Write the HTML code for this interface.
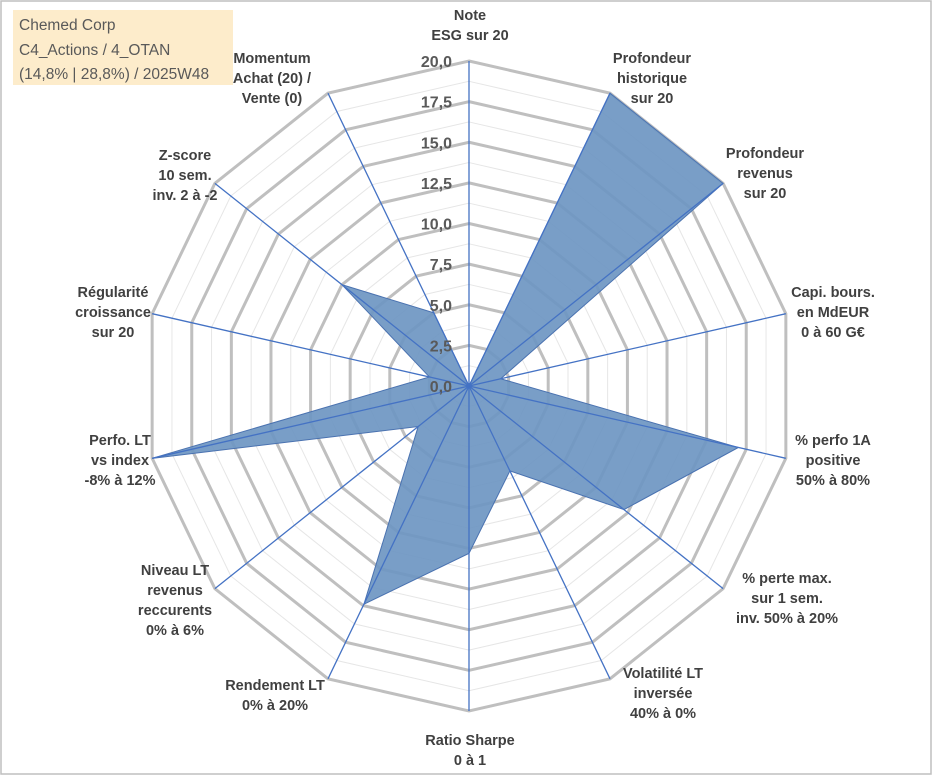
<!DOCTYPE html>
<html><head><meta charset="utf-8">
<style>
body{margin:0;background:#fff;}
#wrap{position:relative;width:933px;height:776px;overflow:hidden;}
svg text{font-family:"Liberation Sans",sans-serif;}
</style></head>
<body>
<div id="wrap">
<svg id="chart" width="933" height="776">
<rect x="1" y="1" width="930" height="773" fill="#fff" stroke="#bfbfbf" stroke-width="1.5"/>
<rect x="13" y="10" width="220" height="75" fill="#fdeccb"/>
<text x="19" y="30" font-size="15.5" fill="#595959">Chemed Corp</text>
<text x="19" y="55" font-size="15.5" fill="#595959">C4_Actions / 4_OTAN</text>
<text x="19" y="79" font-size="15.5" fill="#595959">(14,8% | 28,8%) / 2025W48</text>
</svg>
</div>
<script>
const categories = [
 ["Note","ESG sur 20"],
 ["Profondeur","historique","sur 20"],
 ["Profondeur","revenus","sur 20"],
 ["Capi. bours.","en MdEUR","0 à 60 G€"],
 ["% perfo 1A","positive","50% à 80%"],
 ["% perte max.","sur 1 sem.","inv. 50% à 20%"],
 ["Volatilité LT","inversée","40% à 0%"],
 ["Ratio Sharpe","0 à 1"],
 ["Rendement LT","0% à 20%"],
 ["Niveau LT","revenus","reccurents","0% à 6%"],
 ["Perfo. LT","vs index","-8% à 12%"],
 ["Régularité","croissance","sur 20"],
 ["Z-score","10 sem.","inv. 2 à -2"],
 ["Momentum","Achat (20) /","Vente (0)"]
];
const values = [0, 20, 20, 2, 17, 12.2, 5.8, 10.3, 14.9, 4, 20, 2.5, 10, 5];
const tickLabels = ["0,0","2,5","5,0","7,5","10,0","12,5","15,0","17,5","20,0"];
const maxVal = 20;

const NS="http://www.w3.org/2000/svg";
const svg=document.getElementById('chart');
const cx=469, cy=386, R=325;
const n=categories.length;
function ang(i){return i*2*Math.PI/n;}
function pt(i,v){const r=v/maxVal*R;return [cx+r*Math.sin(ang(i)), cy-r*Math.cos(ang(i))];}
function mk(t,a){const e=document.createElementNS(NS,t);for(const k in a)e.setAttribute(k,a[k]);return e;}
function ring(v){let s=[];for(let i=0;i<n;i++)s.push(pt(i,v).join(','));return s.join(' ');}

for(let k=0;k<tickLabels.length-1;k++){
  const v=(k+0.5)*maxVal/(tickLabels.length-1);
  const e=mk('polygon',{points:ring(v),fill:'none',stroke:'#e6e6e6','stroke-width':1});
  
  
  svg.appendChild(e);
}
for(let k=1;k<tickLabels.length;k++){
  const v=k*maxVal/(tickLabels.length-1);
  const e=mk('polygon',{points:ring(v),fill:'none',stroke:'#bfbfbf','stroke-width':3});
  
  
  svg.appendChild(e);
}
let sp=[];for(let i=0;i<n;i++)sp.push(pt(i,values[i]).join(','));
const poly=mk('polygon',{points:sp.join(' '),fill:'#6e96c2','fill-opacity':0.92,stroke:'#4a72b0','stroke-width':1});


svg.appendChild(poly);
for(let i=0;i<n;i++){
  const p=pt(i,maxVal);
  const l=mk('line',{x1:cx,y1:cy,x2:p[0],y2:p[1],stroke:'#4472c4','stroke-width':1.3});
  
  
  svg.appendChild(l);
}
for(let k=0;k<tickLabels.length;k++){
  const v=k*maxVal/(tickLabels.length-1);
  const y=cy-v/maxVal*R;
  const t=mk('text',{x:cx-17,y:y+6,'text-anchor':'end','font-size':16,'font-weight':'bold',fill:'#595959'});
  t.textContent=tickLabels[k];
  
  
  svg.appendChild(t);
}
// label anchor points (layout, not data): center x, first baseline y
const labelPos = [[470,20],[652,63],[765,158],[833,297],[833,445],[787,583],[663,678],[470,745],[275,690],[175,575],[120,445],[113,297],[185,160],[272,63]];
const lh=20;
for(let i=0;i<n;i++){
  const lines=categories[i];
  const x=labelPos[i][0], y=labelPos[i][1];
  const t=mk('text',{'text-anchor':'middle','font-size':14.5,'font-weight':'bold',fill:'#404040'});
  
  
  lines.forEach((ln,j)=>{const ts=mk('tspan',{x:x,y:y+j*lh});ts.textContent=ln;t.appendChild(ts);});
  svg.appendChild(t);
}
</script>
</body></html>
